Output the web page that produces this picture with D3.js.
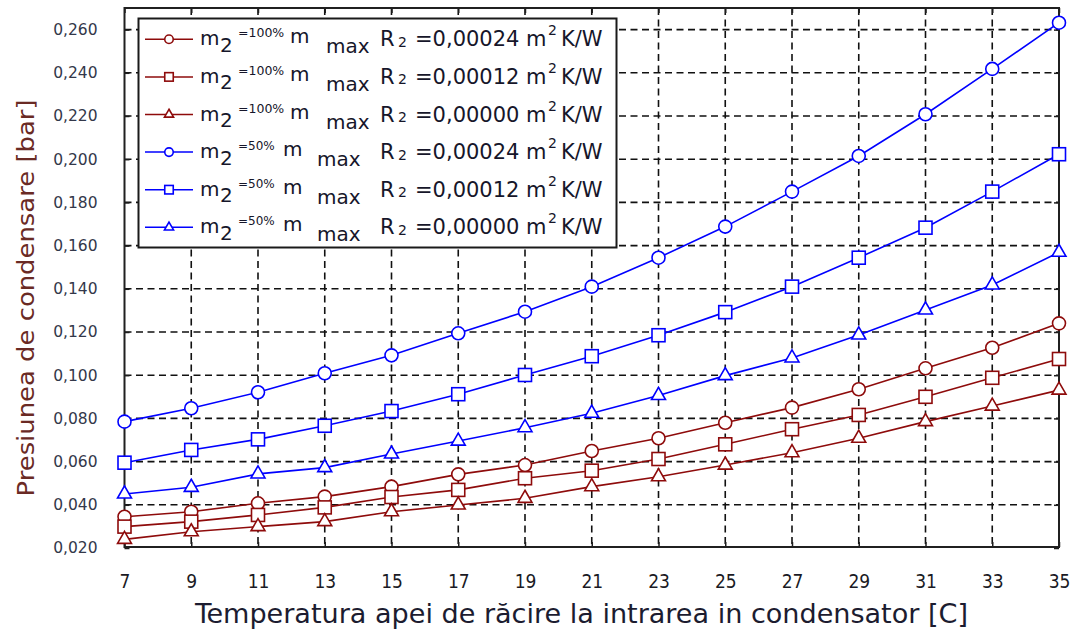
<!DOCTYPE html>
<html>
<head>
<meta charset="utf-8">
<script src="https://cdn.jsdelivr.net/npm/d3@7"></script>
<style>
  html, body { margin: 0; padding: 0; background: #ffffff; }
  svg { display: block; }
</style>
</head>
<body>
<svg id="chart" width="1076" height="636"></svg>
<script>
// Cooling water inlet temperature [C]
const temperatures = [7, 9, 11, 13, 15, 17, 19, 21, 23, 25, 27, 29, 31, 33, 35];

// Condensing pressure [bar], 100% of max cooling water flow
const p100_R24 = [0.0345, 0.0368, 0.0407, 0.0438, 0.0484, 0.0541, 0.0584, 0.0649, 0.0708, 0.0780, 0.0850, 0.0935, 0.1032, 0.1127, 0.1240];
const p100_R12 = [0.0299, 0.0322, 0.0353, 0.0388, 0.0436, 0.0469, 0.0523, 0.0558, 0.0612, 0.0680, 0.0750, 0.0816, 0.0900, 0.0988, 0.1075];
const p100_R00 = [0.0240, 0.0275, 0.0299, 0.0322, 0.0368, 0.0399, 0.0430, 0.0484, 0.0530, 0.0584, 0.0641, 0.0708, 0.0785, 0.0857, 0.0931];

// Condensing pressure [bar], 50% of max cooling water flow
const p50_R24 = [0.0785, 0.0847, 0.0921, 0.1009, 0.1092, 0.1194, 0.1294, 0.1410, 0.1544, 0.1688, 0.1850, 0.2015, 0.2208, 0.2418, 0.2632];
const p50_R12 = [0.0595, 0.0654, 0.0703, 0.0766, 0.0834, 0.0912, 0.1001, 0.1088, 0.1185, 0.1292, 0.1410, 0.1544, 0.1683, 0.1850, 0.2023];
const p50_R00 = [0.0450, 0.0481, 0.0543, 0.0572, 0.0635, 0.0695, 0.0757, 0.0824, 0.0906, 0.0998, 0.1080, 0.1186, 0.1302, 0.1418, 0.1569];

// Legend wording
const flowShares = ["100%", "100%", "100%", "50%", "50%", "50%"];
const foulingResistances = ["0,00024", "0,00012", "0,00000", "0,00024", "0,00012", "0,00000"];

// Axis ticks
const xTicks = [7, 9, 11, 13, 15, 17, 19, 21, 23, 25, 27, 29, 31, 33, 35];
const yTicks = [0.02, 0.04, 0.06, 0.08, 0.10, 0.12, 0.14, 0.16, 0.18, 0.20, 0.22, 0.24, 0.26];

const xTitle = "Temperatura apei de răcire la intrarea in condensator [C]";
const yTitle = "Presiunea de condensare [bar]";

const RED = "#8e0b0b";
const BLUE = "#0000ff";

const series = [
  { values: p100_R24, color: RED,  marker: "circle" },
  { values: p100_R12, color: RED,  marker: "square" },
  { values: p100_R00, color: RED,  marker: "triangle" },
  { values: p50_R24,  color: BLUE, marker: "circle" },
  { values: p50_R12,  color: BLUE, marker: "square" },
  { values: p50_R00,  color: BLUE, marker: "triangle" }
];

const frame = { left: 124.5, right: 1059, top: 8, bottom: 547 };

const svg = d3.select("#chart");
const x = d3.scaleLinear().domain([7, 35]).range([frame.left, frame.right]);
const y = d3.scaleLinear().domain([0.02, 0.27]).range([548, 8]);

const fmtY = v => d3.format(".3f")(v).replace(".", ",");

// dashed grid
const grid = svg.append("g").attr("stroke", "#111111").attr("stroke-width", 1.6)
  .attr("stroke-dasharray", "7,4.5");
grid.selectAll("line.h").data(yTicks.filter(v => v > 0.02)).join("line")
  .attr("x1", frame.left).attr("x2", frame.right)
  .attr("y1", d => y(d)).attr("y2", d => y(d));
grid.selectAll("line.v").data(xTicks.filter(v => v > 7 && v < 35)).join("line")
  .attr("x1", d => x(d)).attr("x2", d => x(d))
  .attr("y1", frame.top).attr("y2", frame.bottom);

// axes: inward ticks on all four sides, labels on left and bottom
const axisL = svg.append("g").attr("transform", `translate(${frame.left},0)`)
  .call(d3.axisLeft(y).tickValues(yTicks).tickSizeInner(-5).tickSizeOuter(0).tickPadding(27).tickFormat(fmtY));
const axisB = svg.append("g").attr("transform", `translate(0,${frame.bottom})`)
  .call(d3.axisBottom(x).tickValues(xTicks).tickSizeInner(-5).tickSizeOuter(0).tickPadding(28).tickFormat(d3.format("d")));
const axisR = svg.append("g").attr("transform", `translate(${frame.right},0)`)
  .call(d3.axisRight(y).tickValues(yTicks).tickSizeInner(-5).tickSizeOuter(0).tickFormat(""));
const axisT = svg.append("g").attr("transform", `translate(0,${frame.top})`)
  .call(d3.axisTop(x).tickValues(xTicks).tickSizeInner(-5).tickSizeOuter(0).tickFormat(""));
[axisL, axisB, axisR, axisT].forEach(g => {
  g.attr("font-size", null).attr("font-family", null);
  g.select(".domain").remove();
  g.selectAll(".tick line").attr("stroke", "#1e1e1e").attr("stroke-width", 1.5);
});
axisL.selectAll(".tick text")
  .style("font-family", "'DejaVu Sans', Verdana, sans-serif")
  .style("font-size", "15.5px").attr("fill", "#33384a");
axisB.selectAll(".tick text")
  .style("font-family", "'Liberation Sans Narrow', 'DejaVu Sans Condensed', sans-serif")
  .style("font-size", "19px").attr("fill", "#1a1a24");

// plot frame
svg.append("rect")
  .attr("x", frame.left).attr("y", frame.top)
  .attr("width", frame.right - frame.left).attr("height", frame.bottom - frame.top)
  .attr("fill", "none").attr("stroke", "#202020").attr("stroke-width", 2);

// titles
svg.append("text")
  .attr("x", 195).attr("y", 623)
  .attr("textLength", 773).attr("lengthAdjust", "spacingAndGlyphs")
  .attr("font-family", "'DejaVu Sans Condensed', 'DejaVu Sans', sans-serif")
  .attr("font-size", 27).attr("fill", "#1c1c30")
  .text(xTitle);
svg.append("text")
  .attr("transform", "translate(34,298) rotate(-90)")
  .attr("text-anchor", "middle")
  .attr("textLength", 397).attr("lengthAdjust", "spacingAndGlyphs")
  .attr("font-family", "'DejaVu Sans', sans-serif")
  .attr("font-size", 23).attr("fill", "#6a2a24")
  .text(yTitle);

// marker drawing
function drawMarker(sel, kind, color, size) {
  if (kind === "circle") {
    sel.append("circle").attr("r", size / 2);
  } else if (kind === "square") {
    sel.append("rect").attr("x", -size / 2).attr("y", -size / 2)
      .attr("width", size).attr("height", size);
  } else {
    const area = Math.sqrt(3) / 4 * size * size * 1.15;
    sel.append("path").attr("d", d3.symbol(d3.symbolTriangle, area)());
  }
  sel.selectAll("circle,rect,path").attr("fill", "#ffffff")
    .attr("stroke", color).attr("stroke-width", 1.6);
}

const line = d3.line().x((d, i) => x(temperatures[i])).y(d => y(d));

series.forEach(s => {
  const g = svg.append("g");
  g.append("path").attr("d", line(s.values))
    .attr("fill", "none").attr("stroke", s.color).attr("stroke-width", 1.6);
  g.selectAll("g.pt").data(s.values).join("g")
    .attr("transform", (d, i) => `translate(${x(temperatures[i])},${y(d)})`)
    .each(function () { drawMarker(d3.select(this), s.marker, s.color, 13); });
});

// legend
const legend = svg.append("g");
legend.append("rect")
  .attr("x", 138.5).attr("y", 18.5).attr("width", 478).attr("height", 229)
  .attr("fill", "#ffffff").attr("stroke", "#1a1a1a").attr("stroke-width", 2);

const legendFont = "'DejaVu Sans', Verdana, sans-serif";
series.forEach((s, i) => {
  const ry = 39.3 + i * 37.6;
  const row = legend.append("g");
  row.append("line").attr("x1", 145).attr("x2", 193).attr("y1", ry).attr("y2", ry)
    .attr("stroke", s.color).attr("stroke-width", 1.5);
  const mk = row.append("g").attr("transform", `translate(169,${ry})`);
  drawMarker(mk, s.marker, s.color, 8.5);

  const full = flowShares[i] === "100%";
  const pieces = [
    { t: "m", x: 200, dy: 6, s: 20 },
    { t: "2", x: 220, dy: 12.5, s: 20 },
    { t: "=" + flowShares[i], x: 238, dy: -2, s: full ? 12.5 : 12 },
    { t: "m", x: full ? 290 : 283, dy: 4, s: 20 },
    { t: "max", x: full ? 326 : 317, dy: 14, s: 20 },
    { t: "R", x: 380, dy: 7, s: 21 },
    { t: "2", x: 398, dy: 7.5, s: 14 },
    { t: "=" + foulingResistances[i] + " m", x: 415, dy: 7, s: 21 },
    { t: "2", x: 548, dy: -4, s: 14 },
    { t: "K/W", x: 561, dy: 7, s: 21 }
  ];
  row.selectAll("text").data(pieces).join("text")
    .attr("x", d => d.x).attr("y", d => ry + d.dy)
    .attr("font-family", legendFont).attr("font-size", d => d.s)
    .attr("fill", "#16162a")
    .text(d => d.t);
});
</script>
</body>
</html>
